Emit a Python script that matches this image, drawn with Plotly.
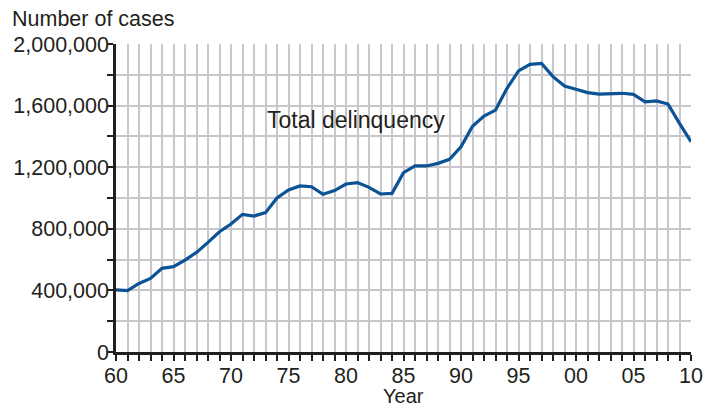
import plotly.graph_objects as go

years = list(range(1960, 2011))
cases = [403000, 398000, 445000, 478000, 543000, 554000, 597000, 647000, 712000, 781000,
         831000, 894000, 883000, 905000, 1000000, 1052000, 1078000, 1073000, 1024000, 1048000,
         1091000, 1100000, 1069000, 1026000, 1030000, 1164000, 1208000, 1208000, 1225000, 1251000,
         1333000, 1466000, 1532000, 1571000, 1712000, 1825000, 1868000, 1874000, 1788000, 1727000,
         1706000, 1684000, 1675000, 1680000, 1680000, 1673000, 1625000, 1630000, 1610000, 1485000,
         1366000]

x_tickvals = [1960, 1965, 1970, 1975, 1980, 1985, 1990, 1995, 2000, 2005, 2010]
x_ticktext = ["60", "65", "70", "75", "80", "85", "90", "95", "00", "05", "10"]
y_tickvals = [0, 400000, 800000, 1200000, 1600000, 2000000]
y_ticktext = ["0", "400,000", "800,000", "1,200,000", "1,600,000", "2,000,000"]

series_name = "Total delinquency"
y_title = "Number of cases"
x_title = "Year"

FONT = "Liberation Sans, Arial, Helvetica, sans-serif"
TXT = "#231f20"
GRID = "#c8c8cc"

fig = go.Figure()
fig.add_trace(go.Scatter(x=years, y=cases, mode="lines",
                         line=dict(color="#0b5394", width=3.2), showlegend=False,
                         hoverinfo="skip"))

fig.update_layout(
    width=719, height=404,
    margin=dict(l=116, r=28, t=44, b=52),
    paper_bgcolor="white", plot_bgcolor="white",
    font=dict(family=FONT, color=TXT, size=21.5),
    xaxis=dict(
        range=[1960, 2010], tickvals=x_tickvals, ticktext=x_ticktext,
        ticks="outside", ticklen=6, tickwidth=1.5, tickcolor="#231f20",
        showgrid=True, gridcolor=GRID, gridwidth=1.5,
        minor=dict(dtick=1, tick0=1960, ticks="outside", ticklen=6, tickwidth=1.5,
                   tickcolor="#231f20", showgrid=True, gridcolor=GRID, gridwidth=1.5),
        showline=True, linecolor="#231f20", linewidth=2.5,
        zeroline=False, tickfont=dict(size=21.5), ticklabelstandoff=-4,
        automargin=False,
    ),
    yaxis=dict(
        range=[0, 2000000], tickvals=y_tickvals, ticktext=y_ticktext,
        ticks="outside", ticklen=6, tickwidth=1.5, tickcolor="#231f20",
        showgrid=True, gridcolor=GRID, gridwidth=1.5,
        minor=dict(dtick=200000, tick0=0, ticks="outside", ticklen=6, tickwidth=1.5,
                   tickcolor="#231f20", showgrid=True, gridcolor=GRID, gridwidth=1.5),
        showline=True, linecolor="#231f20", linewidth=2.5,
        zeroline=False, tickfont=dict(size=21.5), automargin=False,
        ticklabelstandoff=-6,
    ),
    annotations=[
        dict(text=y_title, xref="paper", yref="paper", x=-116/575, y=1 + 25/308,
             xanchor="left", yanchor="middle", showarrow=False,
             font=dict(size=21.5, color=TXT), xshift=10),
        dict(text=series_name, x=1980.9, y=1505000, xref="x", yref="y",
             showarrow=False, font=dict(size=23, color=TXT)),
        dict(text=x_title, xref="paper", yref="paper", x=0.5, y=-(396 - 352)/308,
             xanchor="center", yanchor="middle", showarrow=False,
             font=dict(size=20, color=TXT)),
    ],
)

fig.write_html("out.html", config={"displayModeBar": False},
               post_script="document.body.style.margin='0';document.body.style.padding='0';")
